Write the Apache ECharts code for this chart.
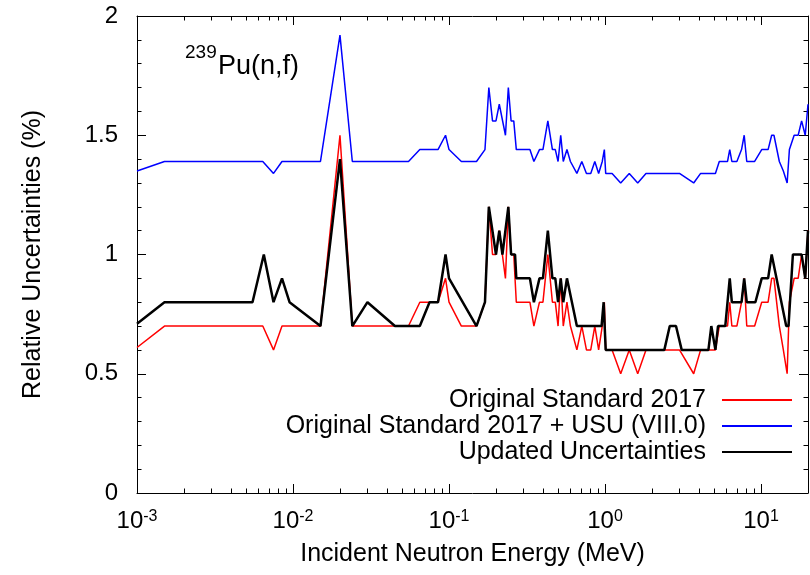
<!DOCTYPE html>
<html><head><meta charset="utf-8">
<script src="https://cdn.jsdelivr.net/npm/echarts@6/dist/echarts.min.js"></script>
<style>html,body{margin:0;padding:0;background:#fff}#c{width:810px;height:575px}</style>
</head><body><div id="c"></div>
<script>
// Energy grid (MeV) shared by "Original Standard 2017" and "+ USU"
const stdEnergy = [0.001, 0.0015, 0.0064, 0.0075, 0.0085, 0.015, 0.02, 0.024, 0.055, 0.065,
  0.085, 0.095, 0.1, 0.12, 0.15, 0.17, 0.18, 0.19, 0.2, 0.21,
  0.23, 0.24, 0.25, 0.26, 0.27, 0.33, 0.35, 0.38, 0.4, 0.43,
  0.46, 0.48, 0.5, 0.52, 0.54, 0.57, 0.6, 0.66, 0.71, 0.76,
  0.81, 0.86, 0.91, 0.96, 0.99, 1.01, 1.11, 1.26, 1.43, 1.62,
  1.83, 3.0, 3.7, 4.1, 5.1, 5.4, 6.1, 6.3, 6.5, 7.0,
  7.5, 7.8, 8.1, 9.1, 10.1, 11.1, 11.7, 12.1, 13.1, 13.9,
  14.7, 15.2, 16.3, 17.3, 18.2, 19.2, 20];
// Original Standard 2017 (%)
const stdValue = [0.61, 0.7, 0.7, 0.6, 0.7, 0.7, 1.5, 0.7, 0.7, 0.8,
  0.8, 0.9, 0.8, 0.7, 0.7, 0.8, 1.2, 1.0, 1.0, 1.1,
  0.9, 1.2, 1.0, 1.0, 0.8, 0.8, 0.7, 0.8, 0.8, 1.0,
  0.8, 0.8, 0.7, 0.9, 0.7, 0.8, 0.7, 0.6, 0.7, 0.6,
  0.6, 0.7, 0.6, 0.7, 0.8, 0.6, 0.6, 0.5, 0.6, 0.5,
  0.6, 0.6, 0.5, 0.6, 0.6, 0.7, 0.7, 0.8, 0.7, 0.7,
  0.8, 0.9, 0.7, 0.7, 0.8, 0.8, 0.9, 0.9, 0.7, 0.6,
  0.5, 0.8, 0.9, 0.9, 1.0, 0.9, 1.1];
// Original Standard 2017 + USU (VIII.0) (%)
const usuValue = [1.35, 1.39, 1.39, 1.34, 1.39, 1.39, 1.92, 1.39, 1.39, 1.44,
  1.44, 1.5, 1.44, 1.39, 1.39, 1.44, 1.7, 1.56, 1.56, 1.63,
  1.5, 1.7, 1.56, 1.56, 1.44, 1.44, 1.39, 1.44, 1.44, 1.56,
  1.44, 1.44, 1.39, 1.5, 1.39, 1.44, 1.39, 1.34, 1.39, 1.34,
  1.34, 1.39, 1.34, 1.39, 1.44, 1.34, 1.34, 1.3, 1.34, 1.3,
  1.34, 1.34, 1.3, 1.34, 1.34, 1.39, 1.39, 1.44, 1.39, 1.39,
  1.44, 1.5, 1.39, 1.39, 1.44, 1.44, 1.5, 1.5, 1.39, 1.35,
  1.3, 1.44, 1.5, 1.5, 1.56, 1.5, 1.63];
// Updated Uncertainties
const updEnergy = [0.001, 0.0015, 0.0055, 0.0065, 0.0075, 0.0085, 0.0095, 0.015, 0.02, 0.024,
  0.03, 0.045, 0.065, 0.075, 0.085, 0.095, 0.1, 0.15, 0.17, 0.18,
  0.2, 0.21, 0.22, 0.24, 0.25, 0.265, 0.27, 0.33, 0.35, 0.38,
  0.4, 0.43, 0.46, 0.48, 0.5, 0.52, 0.54, 0.57, 0.66, 0.95,
  0.98, 1.01, 2.4, 2.6, 2.85, 3.1, 4.6, 4.8, 5.1, 5.3,
  5.9, 6.3, 6.5, 7.5, 7.8, 8.1, 9.2, 10.1, 11.1, 11.7,
  14.5, 15.0, 16.0, 18.2, 19.2, 20];
const updValue = [0.71, 0.8, 0.8, 1.0, 0.8, 0.9, 0.8, 0.7, 1.4, 0.7,
  0.8, 0.7, 0.7, 0.8, 0.8, 1.0, 0.9, 0.7, 0.8, 1.2,
  1.0, 1.1, 1.0, 1.2, 1.0, 1.0, 0.9, 0.9, 0.8, 0.9,
  0.9, 1.1, 0.9, 0.9, 0.8, 0.9, 0.8, 0.9, 0.7, 0.7,
  0.8, 0.6, 0.6, 0.7, 0.7, 0.6, 0.6, 0.7, 0.6, 0.7,
  0.7, 0.9, 0.8, 0.8, 0.9, 0.8, 0.8, 0.9, 0.9, 1.0,
  0.7, 0.7, 1.0, 1.0, 0.9, 1.1];

const seriesNames = ['Original Standard 2017', 'Original Standard 2017 + USU (VIII.0)', 'Updated Uncertainties'];
const xMajorTicks = [0.001, 0.01, 0.1, 1, 10];
const xMinorTicks = [];
xMajorTicks.forEach(d => { for (let k = 2; k <= 9; k++) { const v = +(k * d).toPrecision(3); if (v < 20) xMinorTicks.push(v); } });

const FONT = '"Liberation Sans", Arial, sans-serif';
const pairs = (xs, ys) => xs.map((x, i) => [x, ys[i]]);

const chart = echarts.init(document.getElementById('c'), null, {renderer: 'canvas'});
const xBase = {type: 'log', logBase: 10, min: 0.001, max: 20, splitLine: {show: false}};
const blackLine = {show: true, onZero: false, lineStyle: {color: '#000', width: 1}};
const tickStyle = {color: '#000', width: 1};

chart.setOption({
  animation: false,
  backgroundColor: '#fff',
  grid: {left: 137, right: 2, top: 16, bottom: 82, containLabel: false},
  xAxis: [
    Object.assign({}, xBase, {
      position: 'bottom', axisLine: blackLine,
      axisTick: {show: true, inside: true, length: 9, customValues: xMajorTicks, lineStyle: tickStyle},
      axisLabel: {
        customValues: xMajorTicks, margin: 16, color: '#000', fontSize: 24, fontFamily: FONT,
        formatter: v => '10{sup|' + Math.round(Math.log10(v)) + '}',
        rich: {sup: {fontSize: 16, fontFamily: FONT, color: '#000', verticalAlign: 'top', padding: [0, 0, 9, 0]}}
      },
      name: 'Incident Neutron Energy (MeV)', nameLocation: 'middle', nameGap: 49,
      nameTextStyle: {fontSize: 25, fontFamily: FONT, color: '#000'}
    }),
    Object.assign({}, xBase, {
      position: 'bottom', axisLine: {show: false, onZero: false},
      axisTick: {show: true, inside: true, length: 4.5, customValues: xMinorTicks, lineStyle: tickStyle},
      axisLabel: {show: false}
    }),
    Object.assign({}, xBase, {
      position: 'top', axisLine: blackLine,
      axisTick: {show: true, inside: true, length: 9, customValues: xMajorTicks, lineStyle: tickStyle},
      axisLabel: {show: false}
    }),
    Object.assign({}, xBase, {
      position: 'top', axisLine: {show: false, onZero: false},
      axisTick: {show: true, inside: true, length: 4.5, customValues: xMinorTicks, lineStyle: tickStyle},
      axisLabel: {show: false}
    })
  ],
  yAxis: [
    {
      type: 'value', min: 0, max: 2, interval: 0.5, position: 'left',
      axisLine: blackLine, splitLine: {show: false},
      axisTick: {show: true, inside: true, length: 9, lineStyle: tickStyle},
      minorTick: {show: true, splitNumber: 5, length: 4.5, lineStyle: tickStyle},
      axisLabel: {color: '#000', fontSize: 24, fontFamily: FONT, margin: 19},
      name: 'Relative Uncertainties (%)', nameLocation: 'middle', nameGap: 91,
      nameTextStyle: {fontSize: 25, fontFamily: FONT, color: '#000'}
    },
    {
      type: 'value', min: 0, max: 2, interval: 0.5, position: 'right',
      axisLine: blackLine, splitLine: {show: false},
      axisTick: {show: true, inside: true, length: 9, lineStyle: tickStyle},
      minorTick: {show: true, splitNumber: 5, length: 4.5, lineStyle: tickStyle},
      axisLabel: {show: false}
    }
  ],
  legend: {
    orient: 'vertical', align: 'right', right: 12, top: 382,
    itemWidth: 70, itemHeight: 14, itemGap: 0,
    itemStyle: {opacity: 0},
    textStyle: {fontSize: 25, fontFamily: FONT, color: '#000', lineHeight: 26, padding: [0, 11, 0, 0]},
    data: seriesNames
  },
  graphic: [
    {type: 'text', left: 185, top: 43, style: {text: '239', fontSize: 19, fontFamily: FONT, fill: '#000'}},
    {type: 'text', left: 218, top: 53, style: {text: 'Pu(n,f)', fontSize: 27, fontFamily: FONT, fill: '#000'}}
  ],
  series: [
    {name: seriesNames[0], type: 'line', symbol: 'none', data: pairs(stdEnergy, stdValue),
      lineStyle: {color: '#ff0000', width: 1.5}, itemStyle: {color: '#ff0000'}},
    {name: seriesNames[1], type: 'line', symbol: 'none', data: pairs(stdEnergy, usuValue),
      lineStyle: {color: '#0000ff', width: 1.5}, itemStyle: {color: '#0000ff'}},
    {name: seriesNames[2], type: 'line', symbol: 'none', data: pairs(updEnergy, updValue),
      lineStyle: {color: '#000000', width: 2.5}, itemStyle: {color: '#000000'}}
  ]
});
</script></body></html>
